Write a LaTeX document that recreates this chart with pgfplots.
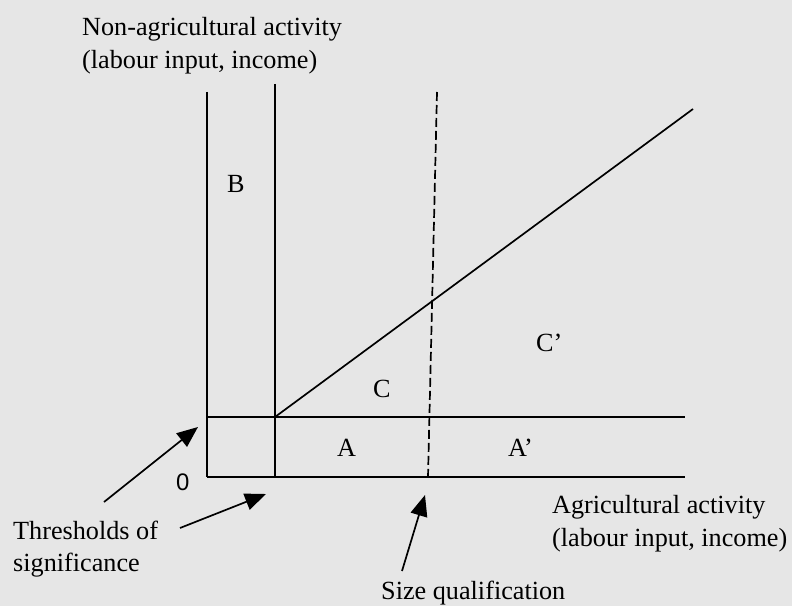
\documentclass[border=0pt]{standalone}
\usepackage{fontspec}
\setmainfont{Liberation Serif}
\newfontfamily\sansf{Liberation Sans}
\usepackage{pgfplots}
\pgfplotsset{compat=1.18}
\usetikzlibrary{arrows.meta}
\definecolor{bg}{RGB}{230,230,230}
\tikzset{lbl/.style={anchor=base west, inner sep=0pt, font=\fontsize{26.3}{32}\selectfont},
  ln/.style={black, line width=1.7bp, mark=none},
  arr/.style={black, line width=1.7bp, mark=none, -{Triangle[length=21bp,width=17bp]}}}
\begin{document}
\begin{tikzpicture}
\begin{axis}[
  scale only axis, width=792bp, height=606bp,
  xmin=0, xmax=792, ymin=0, ymax=606, y dir=reverse,
  axis line style={draw=none}, ticks=none,
  axis background/.style={fill=bg},
  clip=false,
]
% axes and thresholds
\addplot[ln] coordinates {(207,92) (207,477)};
\addplot[ln] coordinates {(275,84) (275,477)};
\addplot[ln] coordinates {(207,477) (685,477)};
\addplot[ln] coordinates {(207,417) (685,417)};
\addplot[ln] coordinates {(275,417) (693,109)};
\addplot[ln, dash pattern=on 9bp off 4bp] coordinates {(437,92) (428,477)};
% arrows
\addplot[arr] coordinates {(104,502) (198,427)};
\addplot[arr] coordinates {(180,528) (266,494)};
\addplot[arr] coordinates {(402,571) (425,495)};
% labels
\node[lbl] at (axis cs:82,36) {Non-agricultural activity};
\node[lbl] at (axis cs:82,69) {(labour input, income)};
\node[lbl] at (axis cs:227,192) {B};
\node[lbl] at (axis cs:373,397) {C};
\node[lbl] at (axis cs:536,351) {C’};
\node[lbl] at (axis cs:337,456) {A};
\node[lbl] at (axis cs:508,456) {A’};
\node[anchor=base west, inner sep=0pt, font=\sansf\fontsize{24}{28}\selectfont] at (axis cs:176,490) {0};
\node[lbl] at (axis cs:552,513) {Agricultural activity};
\node[lbl] at (axis cs:552,546) {(labour input, income)};
\node[lbl] at (axis cs:13,539) {Thresholds of};
\node[lbl] at (axis cs:13,571) {significance};
\node[lbl] at (axis cs:381,599) {Size qualification};
\end{axis}
\end{tikzpicture}
\end{document}
